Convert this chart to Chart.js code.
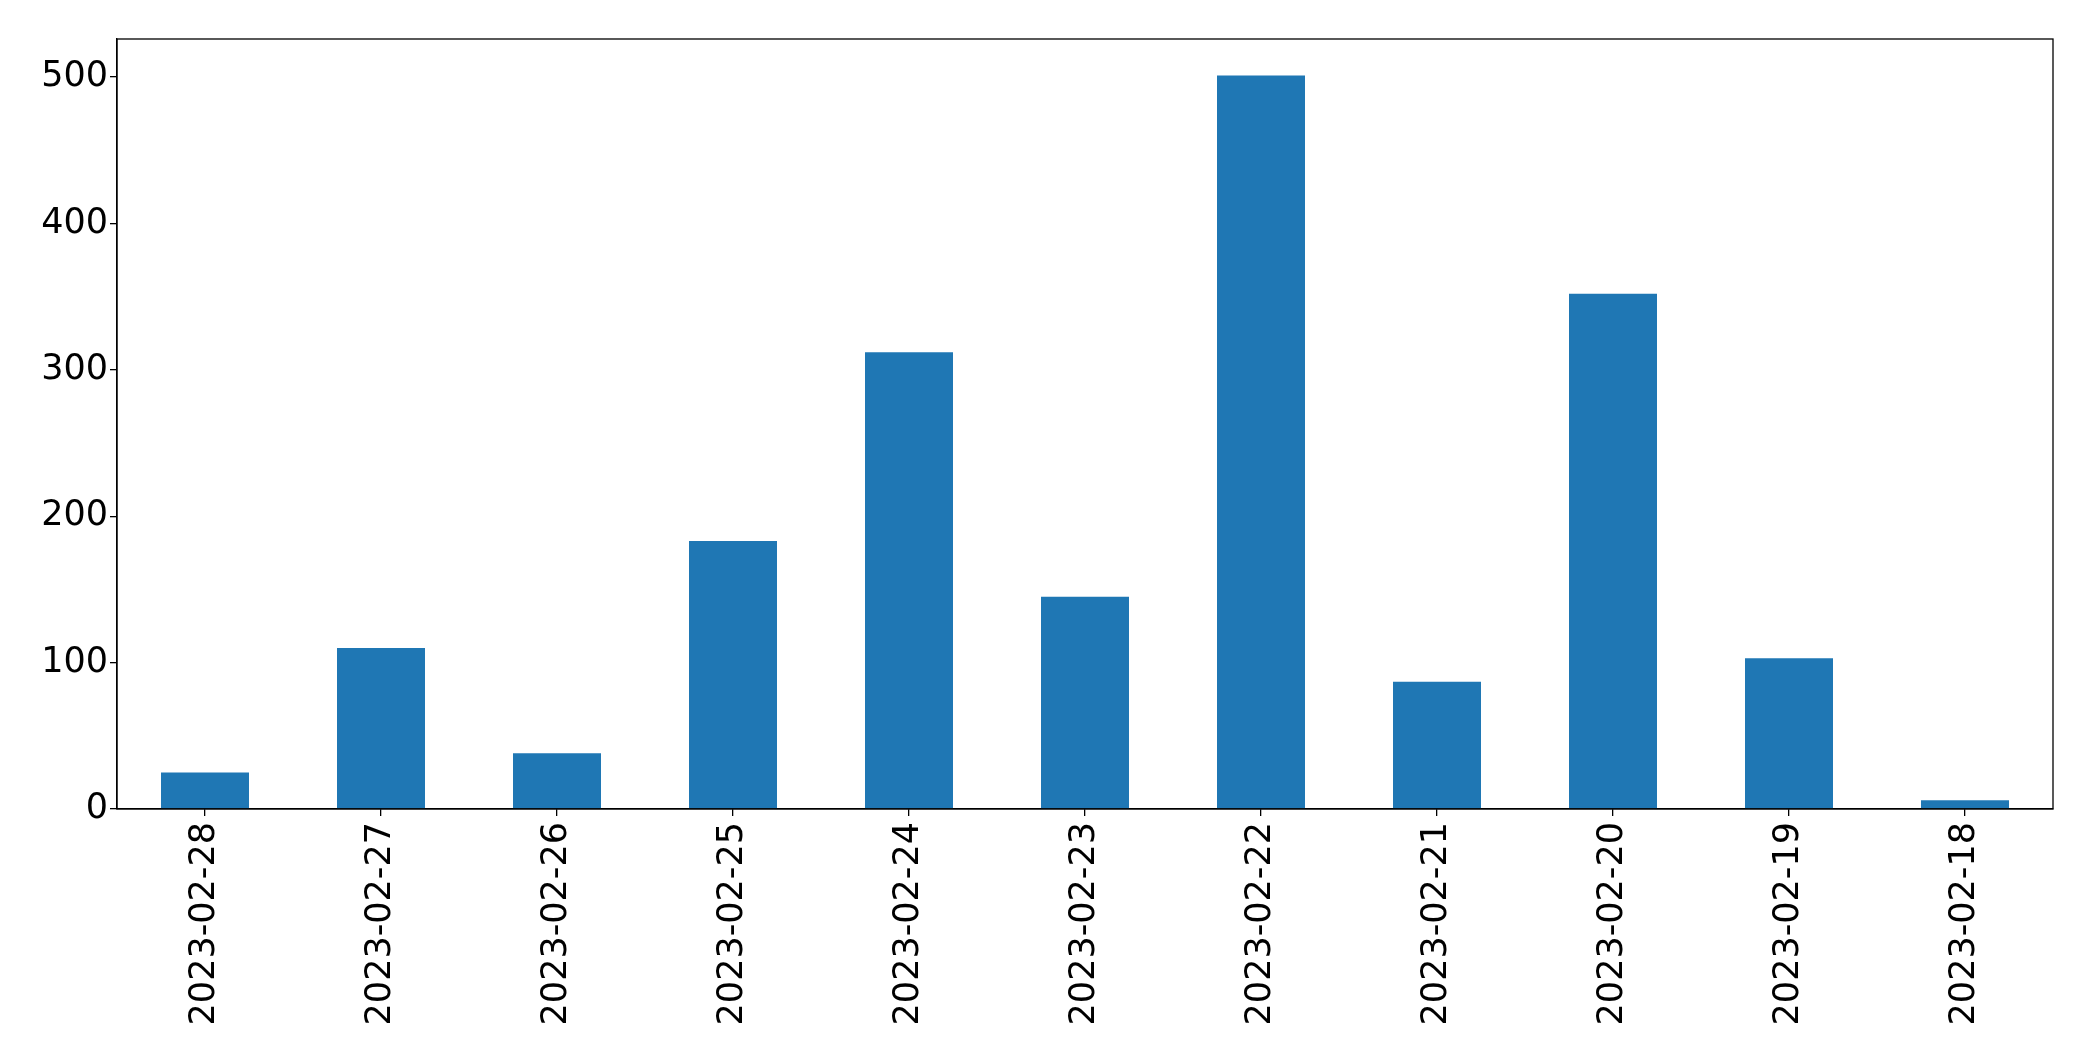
<!DOCTYPE html>
<html>
<head>
<meta charset="utf-8">
<script src="https://cdn.jsdelivr.net/npm/chart.js@4/dist/chart.umd.min.js"></script>
<style>
  html, body { margin: 0; padding: 0; background: #fff; }
  #wrap { width: 2093px; height: 1061px; }
</style>
</head>
<body>
<div id="wrap"><canvas id="grafico" width="2093" height="1061"></canvas></div>
<script>
    // Datos
    const fechas = ['2023-02-28', '2023-02-27', '2023-02-26', '2023-02-25', '2023-02-24', '2023-02-23',
                    '2023-02-22', '2023-02-21', '2023-02-20', '2023-02-19', '2023-02-18'];
    const valores = [25, 110, 38, 183, 312, 145, 501, 87, 352, 103, 6];
    const ticksY = [0, 100, 200, 300, 400, 500];
    const maxY = 526;

    // Marco completo alrededor del área del gráfico
    const marco = {
        id: 'marco',
        afterDraw(chart) {
            const a = chart.chartArea;
            const ctx = chart.ctx;
            ctx.save();
            ctx.strokeStyle = '#000';
            ctx.lineWidth = 1.3;
            ctx.strokeRect(a.left, a.top, a.right - a.left, a.bottom - a.top);
            ctx.restore();
        }
    };

    const ctx = document.getElementById('grafico').getContext('2d');
    new Chart(ctx, {
        type: 'bar',
        data: {
            labels: fechas,
            datasets: [{
                data: valores,
                backgroundColor: '#1f77b4',
                barPercentage: 0.5,
                categoryPercentage: 1.0
            }]
        },
        options: {
            responsive: false,
            animation: false,
            layout: { padding: { top: 39, right: 40, left: 0, bottom: 0 } },
            plugins: {
                legend: { display: false },
                tooltip: { enabled: false }
            },
            scales: {
                x: {
                    grid: { drawOnChartArea: false, offset: false, color: '#000', tickLength: 7, lineWidth: 1.3 },
                    border: { color: '#000', width: 1.3 },
                    ticks: {
                        color: '#000',
                        font: { family: 'DejaVu Sans', size: 35 },
                        minRotation: 90,
                        maxRotation: 90,
                        padding: 6,
                        autoSkip: false
                    },
                    afterFit: function(scale) { scale.height = 252; }
                },
                y: {
                    min: 0,
                    max: maxY,
                    grid: { drawOnChartArea: false, color: '#000', tickLength: 7, lineWidth: 1.3 },
                    border: { color: '#000', width: 1.3 },
                    ticks: {
                        color: '#000',
                        font: { family: 'DejaVu Sans', size: 35 },
                        padding: 2
                    },
                    afterBuildTicks: function(scale) {
                        scale.ticks = ticksY.map(v => ({ value: v }));
                    },
                    afterFit: function(scale) { scale.width = 117; }
                }
            }
        },
        plugins: [marco]
    });
</script>
</body>
</html>
